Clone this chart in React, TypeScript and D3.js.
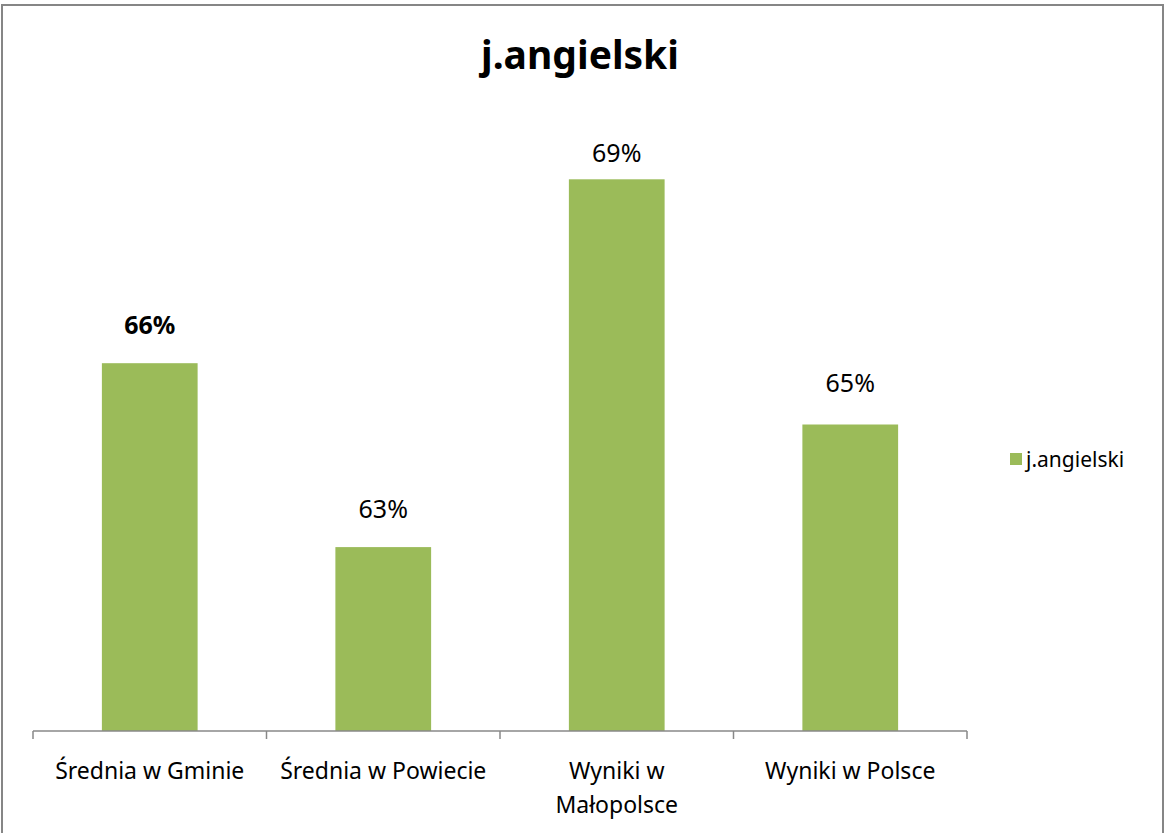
import * as d3 from 'd3';
import { useEffect, useRef } from 'react';

const categories = ['Średnia w Gminie', 'Średnia w Powiecie', 'Wyniki w Małopolsce', 'Wyniki w Polsce'];
const categoryLines = [['Średnia w Gminie'], ['Średnia w Powiecie'], ['Wyniki w', 'Małopolsce'], ['Wyniki w Polsce']];
const values = [0.66, 0.63, 0.69, 0.65];
const boldLabel = [true, false, false, false];
const seriesName = 'j.angielski';

// labels were nudged by hand in the original, so the gap to the bar differs
const labelGap = [29, 29, 17, 33];

const FONT = "'Noto Sans', 'Open Sans', sans-serif";

export default function App() {
    const chartRef = useRef<SVGSVGElement | null>(null);

    useEffect(() => {
        if (!chartRef.current) return;
        d3.select(chartRef.current).selectAll('*').remove();

        const svg = d3.select(chartRef.current);
        const width = 1165;
        const height = 833;
        const plot = { left: 33, right: 967, top: 118, bottom: 731 };

        // chart frame
        svg.append('rect')
            .attr('x', 2)
            .attr('y', 5)
            .attr('width', width - 4)
            .attr('height', height)
            .attr('fill', '#fff')
            .attr('stroke', '#868686')
            .attr('stroke-width', 2);

        svg.append('text')
            .attr('x', 580)
            .attr('y', 69)
            .attr('text-anchor', 'middle')
            .style('font-family', FONT)
            .style('font-size', '39px')
            .style('font-weight', 'bold')
            .text(seriesName);

        const x = d3
            .scaleBand()
            .domain(categories)
            .range([plot.left, plot.right])
            .paddingInner(0.59)
            .paddingOuter(0.295);

        const y = d3.scaleLinear().domain([0.6, 0.7]).range([plot.bottom, plot.top]);

        svg.append('g')
            .selectAll('rect')
            .data(values)
            .join('rect')
            .attr('x', (_, i) => x(categories[i])!)
            .attr('y', (d) => y(d))
            .attr('width', x.bandwidth())
            .attr('height', (d) => y(0.6) - y(d))
            .attr('fill', '#9bbb59');

        svg.append('g')
            .selectAll('text')
            .data(values)
            .join('text')
            .attr('x', (_, i) => x(categories[i])! + x.bandwidth() / 2)
            .attr('y', (d, i) => y(d) - labelGap[i])
            .attr('text-anchor', 'middle')
            .style('font-family', FONT)
            .style('font-size', '25px')
            .style('font-weight', (_, i) => (boldLabel[i] ? 'bold' : 'normal'))
            .text((d) => d3.format('.0%')(d));

        // category axis with ticks between the groups
        const step = x.step();
        const axis = svg.append('g').attr('stroke', '#888').attr('stroke-width', 1.5);
        axis.append('line')
            .attr('x1', plot.left)
            .attr('x2', plot.right)
            .attr('y1', plot.bottom)
            .attr('y2', plot.bottom);
        axis.selectAll('line.tick')
            .data(d3.range(categories.length + 1))
            .join('line')
            .attr('class', 'tick')
            .attr('x1', (i) => plot.left + i * step)
            .attr('x2', (i) => plot.left + i * step)
            .attr('y1', plot.bottom)
            .attr('y2', plot.bottom + 8);

        const labels = svg.append('g')
            .selectAll('text')
            .data(categoryLines)
            .join('text')
            .attr('x', (_, i) => x(categories[i])! + x.bandwidth() / 2)
            .attr('y', plot.bottom + 48)
            .attr('text-anchor', 'middle')
            .style('font-family', FONT)
            .style('font-size', '23px');
        labels.selectAll('tspan')
            .data((d) => d)
            .join('tspan')
            .attr('x', function () {
                return (this as SVGTSpanElement).parentElement!.getAttribute('x');
            })
            .attr('dy', (_, i) => (i === 0 ? 0 : 34))
            .text((d) => d);

        // legend
        svg.append('rect')
            .attr('x', 1010)
            .attr('y', 453)
            .attr('width', 12)
            .attr('height', 12)
            .attr('fill', '#9bbb59');
        svg.append('text')
            .attr('x', 1026)
            .attr('y', 467)
            .style('font-family', FONT)
            .style('font-size', '21px')
            .text(seriesName);
    }, []);

    return (
        <svg
            ref={chartRef}
            width={1165}
            height={833}
            style={{ position: 'absolute', left: 0, top: 0, background: '#fff' }}
        />
    );
}
